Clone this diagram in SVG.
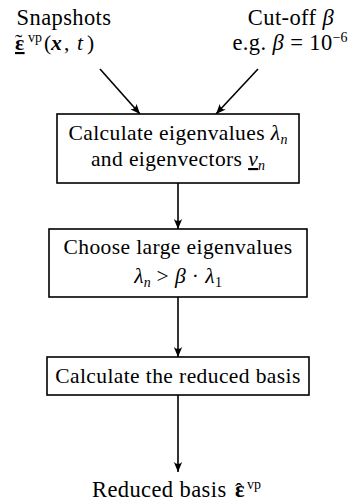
<svg xmlns="http://www.w3.org/2000/svg" width="361" height="504" viewBox="0 0 361 504">
<style>
text{font-family:'Liberation Serif','DejaVu Serif',serif;font-size:21.5px;letter-spacing:0.4px;fill:#000;text-anchor:middle}
.l{text-anchor:start}
.big{font-size:22.5px}
.i{font-style:italic}
.b{font-weight:bold}
.sup{font-size:14px;letter-spacing:0}
.sub{font-size:14px;letter-spacing:0}
.acc{font-size:22px;letter-spacing:0;font-weight:normal}
.box{fill:#fff;stroke:#000;stroke-width:1.6}
.edge{stroke:#000;stroke-width:1.6;fill:none;marker-end:url(#ah)}
</style>
<defs>
<marker id="ah" viewBox="0 0 10 10" refX="10" refY="5" markerWidth="10" markerHeight="10" markerUnits="userSpaceOnUse" orient="auto">
<path d="M0,0.8 Q4,5 0,9.2 L10,5 Z" fill="#000"/>
</marker>
</defs>
<g id="edges">
<line class="edge" x1="100" y1="69" x2="140" y2="114"/>
<line class="edge" x1="258" y1="69" x2="216" y2="114"/>
<line class="edge" x1="178" y1="183" x2="178" y2="229"/>
<line class="edge" x1="178" y1="297" x2="178" y2="357"/>
<line class="edge" x1="178" y1="395" x2="178" y2="472"/>
</g>
<g id="snapshots">
<text class="big" x="64" y="25">Snapshots</text>
<text class="l" y="50"><tspan class="b" x="15" text-decoration="underline">ε</tspan><tspan class="acc" x="15" dy="-1">˜</tspan><tspan class="sup" x="28" dy="-7">vp</tspan><tspan x="44" dy="8">(</tspan><tspan class="b i" x="51">x</tspan><tspan x="64">,</tspan><tspan class="i" x="77">t</tspan><tspan x="87">)</tspan></text>
</g>
<g id="cutoff">
<text class="big" x="291" y="25">Cut-off <tspan class="i">β</tspan></text>
<text class="big" x="290" y="50">e.g. <tspan class="i">β</tspan> = 10<tspan class="sup" dy="-8">−6</tspan></text>
</g>
<g id="calc-eig">
<rect class="box" x="57" y="114" width="242" height="69"/>
<text x="178" y="140">Calculate eigenvalues <tspan class="i">λ</tspan><tspan class="sub i" dy="4">n</tspan></text>
<text x="178" y="166">and eigenvectors <tspan class="i" text-decoration="underline">v</tspan><tspan class="sub i" dy="4">n</tspan></text>
</g>
<g id="choose">
<rect class="box" x="49" y="229" width="258" height="68"/>
<text x="178" y="254">Choose large eigenvalues</text>
<text x="178" y="283"><tspan class="i">λ</tspan><tspan class="sub i" dy="4">n</tspan><tspan dy="-4"> &gt; </tspan><tspan class="i">β</tspan> · <tspan class="i">λ</tspan><tspan class="sub" dy="4">1</tspan></text>
</g>
<g id="reduced">
<rect class="box" x="47" y="357" width="262" height="38"/>
<text x="178" y="383">Calculate the reduced basis</text>
</g>
<g id="output">
<text class="l big" y="497"><tspan x="92">Reduced basis</tspan><tspan class="b" x="235">ε</tspan><tspan class="acc" x="235" dy="1">ˆ</tspan><tspan class="sup" x="247" dy="-9">vp</tspan></text>
</g>
</svg>
